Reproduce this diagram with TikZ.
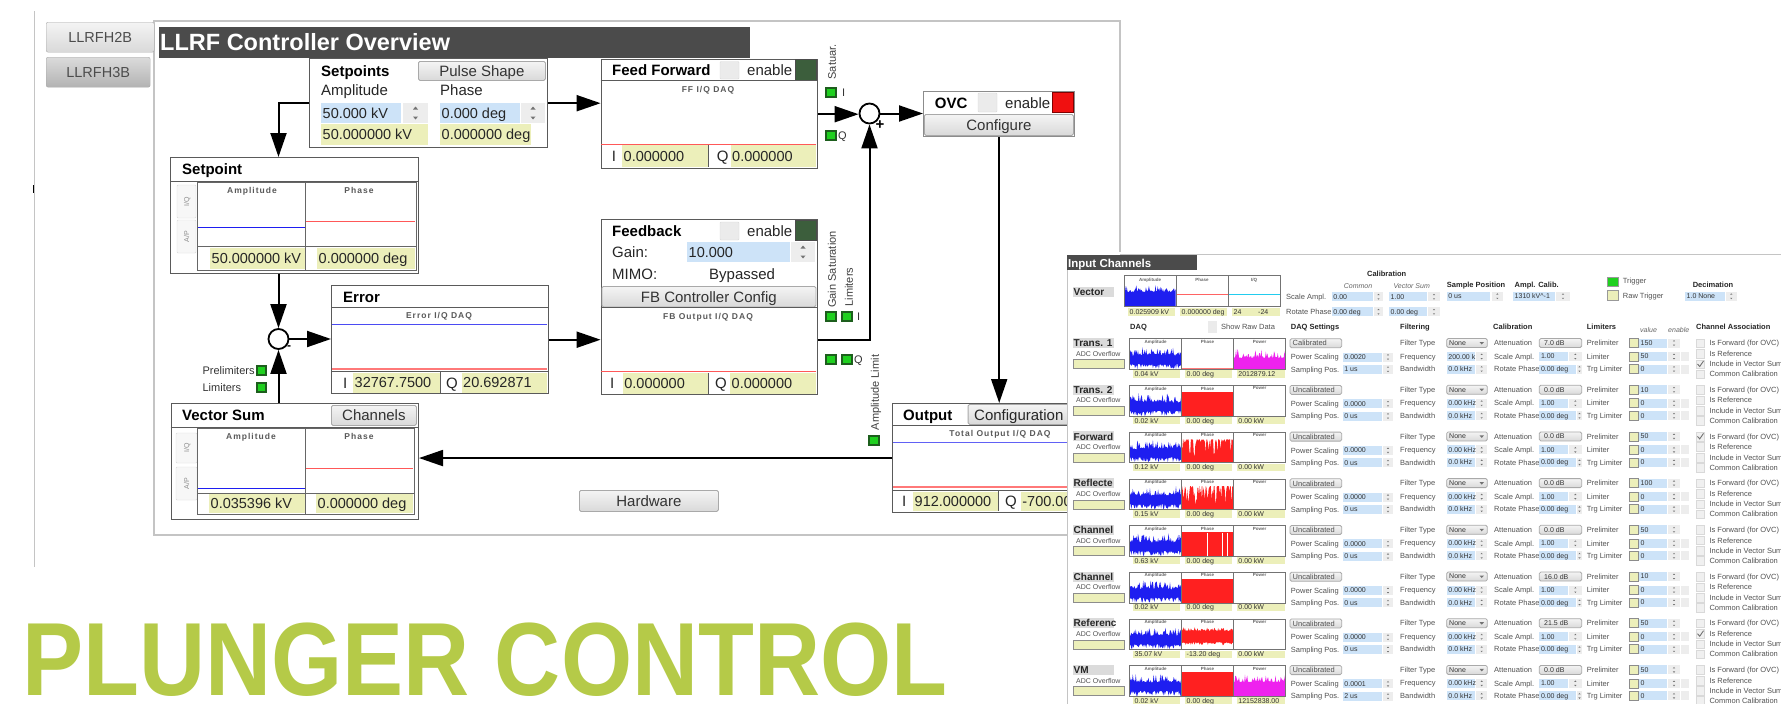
\documentclass[tikz,border=0pt]{standalone}
\usepackage{fontspec}
\setmainfont{Liberation Sans}
\newfontfamily\bannerfont[FakeStretch=0.88]{Liberation Sans}
\newfontfamily\daqfont[LetterSpace=12]{Liberation Sans}
\usepackage{xcolor}
\usetikzlibrary{arrows.meta,positioning,calc}
\definecolor{titlegray}{HTML}{4B4B4B}
\definecolor{framegray}{HTML}{C4C4C4}
\definecolor{boxedge}{HTML}{5A5A5A}
\definecolor{fieldyel}{HTML}{ECEFBA}
\definecolor{fieldblue}{HTML}{CDE3F8}
\definecolor{btntop}{HTML}{F4F4F4}
\definecolor{btnbot}{HTML}{D9D9D9}
\definecolor{btnedge}{HTML}{A9A9A9}
\definecolor{ledgreen}{HTML}{1FD01F}
\definecolor{leddark}{HTML}{1D5E1D}
\definecolor{okgreen}{HTML}{3C5E3C}
\definecolor{alarmred}{HTML}{F01010}
\definecolor{plotblue}{HTML}{1E1EF0}
\definecolor{plotred}{HTML}{FF2020}
\definecolor{plotmag}{HTML}{EE22EE}
\definecolor{plotcyan}{HTML}{22CCEE}
\definecolor{plunger}{HTML}{B5CA48}
\newcounter{lblc}
\newcommand\fsz[1]{\fontsize{#1pt}{#1pt}\selectfont}
% text label with an automatic name
\newcommand\lab[4][]{\stepcounter{lblc}\node[#1] (t\arabic{lblc}) at ({#2},{#3}) {#4};}
% filled field with its text
\newcommand\fld[7][]{\stepcounter{lblc}\fill[#6] ({#2},{#3}) rectangle ({#4},{#5});
  \node[anchor=west,#1] (f\arabic{lblc}) at ({#2+1.5},{((#3)+(#5))/2}) {#7};}
% spin buttons
\newcommand\spin[4]{%
  \pgfmathsetmacro\spx{((#1)+(#3))/2}%
  \pgfmathsetmacro\spu{(3*(#2)+(#4))/4}%
  \pgfmathsetmacro\spl{((#2)+3*(#4))/4}%
  \pgfmathsetmacro\sps{((#4)-(#2))/8}%
  \fill[black!7] ({#1},{#2}) rectangle ({#3},{#4});
  \fill[black!55] (\spx-\sps,\spu+0.6*\sps) -- (\spx+\sps,\spu+0.6*\sps) -- (\spx,\spu-0.6*\sps) -- cycle;
  \fill[black!55] (\spx-\sps,\spl-0.6*\sps) -- (\spx+\sps,\spl-0.6*\sps) -- (\spx,\spl+0.6*\sps) -- cycle;}
% noisy trace band
\newcommand\noiseband[5]{%
  \fill[#5] plot[domain=#1:#2, samples=70] (\x,{#3}) -- plot[domain=#2:#1, samples=70] (\x,{#4}) -- cycle;}
\tikzset{
  every node/.style={inner sep=0pt, text depth=0pt},
  ui/.style={font=\fsz{15}, text=black!85, anchor=base west},
  uib/.style={font=\fsz{15}\bfseries, text=black, anchor=base west},
  fv/.style={font=\fsz{14.5}, text=black!85},
  side/.style={font=\fsz{11}, text=black!80, anchor=base west},
  rot/.style={font=\fsz{11}, text=black!75, rotate=90},
  daq/.style={font=\daqfont\fsz{8.5}\bfseries, text=black!65},
  ptitle/.style={font=\daqfont\fsz{8.5}\bfseries, text=black!65},
  tabtxt/.style={font=\fsz{7}, text=black!45, rotate=90},
  blockbox/.style={draw=boxedge, line width=1.4pt, fill=white, anchor=north west},
  titlebar/.style={fill=titlegray, anchor=north west},
  tabbtn/.style={draw=btnedge, top color=btntop, bottom color=btnbot, rounded corners=2pt,
    anchor=north west, font=\fsz{14.5}, text=black!70},
  btn/.style={draw=btnedge, top color=btntop, bottom color=btnbot, rounded corners=1.5pt, line width=0.8pt},
  divline/.style={draw=boxedge, line width=1pt},
  plotedge/.style={draw=black!60, line width=1pt},
  tabedge/.style={draw=black!15, fill=black!3, rounded corners=1pt},
  chk/.style={draw=black!15, fill=black!8, rounded corners=1pt},
  okbox/.style={fill=okgreen, draw=black!70, line width=0.8pt},
  alarm/.style={fill=alarmred, draw=red!50!black, line width=0.8pt},
  led/.style={draw=leddark, fill=ledgreen, line width=1.2pt},
  sigarrow/.style={-{Triangle[length=24pt,width=16pt]}, line width=2pt},
  sumnode/.style={circle, draw, line width=1.8pt, minimum size=20pt, fill=white},
  ic/.style={font=\fsz{7.5}, text=black!68, anchor=west},
  icb/.style={font=\fsz{7.5}\bfseries, text=black!85, anchor=west},
  ici/.style={font=\fsz{7}\itshape, text=black!60, anchor=west},
  icv/.style={font=\fsz{7}, text=black!80},
  icname/.style={font=\fsz{10}\bfseries, text=black!85, anchor=west},
  ptiny/.style={font=\fsz{4.5}\bfseries, text=black!60},
}
\begin{document}
\begin{tikzpicture}[x=1pt, y=-1pt]
\useasboundingbox (0,0) rectangle (1781,704);
\pgfmathsetseed{1234}

% left window frame and tabs
\draw[framegray, line width=1pt] (34,11) -- (34,567);
\draw[line width=1.5pt] (33.6,185) -- (33.6,193);
\draw[framegray, line width=1.2pt, fill=white] (154,21) rectangle (1120,535);
\node[tabbtn, minimum width=108, minimum height=30] (h2b) at (46,22) {LLRFH2B};
\node[tabbtn, top color=black!14, bottom color=black!30, minimum width=104, minimum height=30] (h3b) at (46,57) {LLRFH3B};
\node[titlebar, minimum width=591, minimum height=31] (title) at (159,27) {};
\lab[font=\fsz{23.5}\bfseries, text=white, anchor=base west]{160}{50}{LLRF Controller Overview}

% Setpoints
\node[blockbox, minimum width=238, minimum height=89] (spts) at (309,58) {};
\lab[uib]{321}{76}{Setpoints}
\node[btn, font=\fsz{15}, text=black!80, anchor=north west, minimum width=127, minimum height=19] (pulse) at (418,61) {Pulse Shape};
\lab[ui]{321}{95}{Amplitude}
\lab[ui]{440}{95}{Phase}
\fld[fv]{321}{103}{401}{123}{fieldblue}{50.000 kV}
\spin{403}{103}{428}{123}
\fld[fv]{440}{103}{520}{123}{fieldblue}{0.000 deg}
\spin{521}{103}{545}{123}
\fld[fv]{321}{124}{428}{145}{fieldyel}{50.000000 kV}
\fld[fv]{440}{124}{531}{145}{fieldyel}{0.000000 deg}

% Setpoint display
\node[blockbox, minimum width=248, minimum height=116] (spbox) at (170,157) {};
\lab[uib]{182}{174}{Setpoint}
\draw[divline] (170,181) -- (418,181);
\draw[tabedge] (177,185) rectangle (196,218);
\lab[tabtxt]{186.5}{201.5}{I/Q}
\draw[tabedge] (177,220) rectangle (196,253);
\lab[tabtxt]{186.5}{236.5}{A/P}
\draw[plotblue, line width=1pt] (198,227) -- (305,227);
\draw[plotred!75, line width=1pt] (306,221) -- (415,221);
\draw[plotedge] (197,182) rectangle (416,270);
\draw[plotedge] (305.5,182) -- (305.5,270) (197,246) -- (416,246);
\lab[ptitle]{252}{190}{Amplitude}
\lab[ptitle]{359}{190}{Phase}
\fld[fv]{210}{247.5}{305}{269}{fieldyel}{50.000000 kV}
\fld[fv]{317}{247.5}{415}{269}{fieldyel}{0.000000 deg}

% Error
\node[blockbox, minimum width=216.6, minimum height=108] (err) at (331,285) {};
\lab[uib]{343}{302}{Error}
\draw[divline] (331,307) -- (547.6,307);
\lab[daq]{439}{315}{Error I/Q DAQ}
\draw[plotblue!80, line width=1pt] (332,324.3) -- (547,324.3);
\draw[plotred!60, line width=1.6pt] (332,368.7) -- (547,368.7);
\draw[divline] (331,371.5) -- (547.6,371.5);
\lab[ui]{343}{388}{I}
\fld[fv]{353}{372.5}{440}{393}{fieldyel}{32767.7500}
\draw[divline] (440,372) -- (440,393);
\lab[ui]{446}{388}{Q}
\fld[fv]{461.5}{372.5}{547}{393}{fieldyel}{20.692871}

% Vector Sum
\node[blockbox, minimum width=247, minimum height=116] (vsum) at (170.6,403) {};
\lab[uib]{182}{420}{Vector Sum}
\node[btn, font=\fsz{15}, text=black!80, anchor=north west, minimum width=85, minimum height=20] (chan) at (331,405) {Channels};
\draw[divline] (170.6,427) -- (417.6,427);
\draw[tabedge] (176,433) rectangle (197,463);
\lab[tabtxt]{186.5}{448}{I/Q}
\draw[tabedge] (176,467) rectangle (197,500);
\lab[tabtxt]{186.5}{483.5}{A/P}
\draw[plotblue, line width=1pt] (198,488.7) -- (305,488.7);
\draw[plotred!75, line width=1pt] (306,468) -- (413,468);
\draw[plotedge] (197,428) rectangle (414,514);
\draw[plotedge] (305,428) -- (305,514) (197,493) -- (414,493);
\lab[ptitle]{251}{436}{Amplitude}
\lab[ptitle]{359}{436}{Phase}
\fld[fv]{209}{494}{304.5}{513}{fieldyel}{0.035396 kV}
\fld[fv]{316}{494}{413}{513}{fieldyel}{0.000000 deg}
\lab[side]{202.4}{374}{Prelimiters}
\draw[led] (257,366) rectangle (266,375);
\lab[side]{202.4}{391}{Limiters}
\draw[led] (257,383) rectangle (266,392);

% Feed Forward
\node[blockbox, minimum width=216, minimum height=109] (ff) at (600.6,59) {};
\lab[uib]{612}{75}{Feed Forward}
\draw[chk] (720,61.5) rectangle (739,79);
\lab[ui]{747}{75}{enable}
\draw[okbox] (795,59.7) rectangle (816,80);
\draw[divline] (600.6,80.7) -- (816.6,80.7);
\lab[daq]{708}{89}{FF I/Q DAQ}
\draw[plotred!75, line width=1pt] (601,144) -- (816,144);
\lab[ui]{611.6}{161}{I}
\fld[fv]{622}{145}{708}{167}{fieldyel}{0.000000}
\draw[divline] (708,145) -- (708,167);
\lab[ui]{716.7}{161}{Q}
\fld[fv]{730.5}{145}{816}{167}{fieldyel}{0.000000}
\lab[rot]{832}{62}{Satuar.}
\draw[led] (826,88) rectangle (836,97);
\lab[side, anchor=west]{842}{92.5}{I}
\draw[led] (826,131) rectangle (836,140);
\lab[side, anchor=west]{838}{135.5}{Q}

% Feedback
\node[blockbox, minimum width=216, minimum height=175] (fb) at (600.6,219) {};
\lab[uib]{612}{236}{Feedback}
\draw[chk] (720,222) rectangle (739,240);
\lab[ui]{747}{236}{enable}
\draw[okbox] (795,220) rectangle (816,240);
\lab[ui]{612}{257}{Gain:}
\fld[fv]{687}{242}{790}{262}{fieldblue}{10.000}
\spin{791}{242}{815}{262}
\lab[ui]{612}{279}{MIMO:}
\lab[ui]{709}{279}{Bypassed}
\node[btn, font=\fsz{15}, text=black!80, anchor=north west, minimum width=214, minimum height=20.5] (fbcfg) at (601.5,286) {FB Controller Config};
\draw[divline] (600.6,307) -- (816.6,307);
\lab[daq]{708}{316}{FB Output I/Q DAQ}
\draw[plotred!75, line width=1pt] (601,371.7) -- (816,371.7);
\lab[ui]{610}{388}{I}
\fld[fv]{622.7}{373}{708}{394}{fieldyel}{0.000000}
\draw[divline] (708,373) -- (708,394);
\lab[ui]{715}{388}{Q}
\fld[fv]{730}{373}{816}{394}{fieldyel}{0.000000}
\lab[rot]{832}{269.5}{Gain Saturation}
\lab[rot]{849}{287}{Limiters}
\draw[led] (826,312) rectangle (836,321);
\draw[led] (842,312) rectangle (852,321);
\lab[side, anchor=west]{857}{316.5}{I}
\draw[led] (826,355) rectangle (836,364);
\draw[led] (842,355) rectangle (852,364);
\lab[side, anchor=west]{854}{359.5}{Q}
\lab[rot]{875}{392.5}{Amplitude Limit}
\draw[led] (869,436) rectangle (879,445);

% OVC
\node[blockbox, draw=black!45, minimum width=151, minimum height=45] (ovc) at (923,91) {};
\lab[uib]{934.7}{108}{OVC}
\draw[chk] (978,93) rectangle (997,112);
\lab[ui]{1005}{108}{enable}
\draw[alarm] (1052.4,92) rectangle (1073,112);
\node[btn, font=\fsz{15}, text=black!80, anchor=north west, minimum width=149, minimum height=21] (ovccfg) at (924,114) {Configure};

% Output
\node[blockbox, minimum width=212, minimum height=108.7] (out) at (892,403) {};
\lab[uib]{903}{420.7}{Output}
\node[btn, anchor=north west, minimum width=135, minimum height=20] (outcfg) at (967.7,404) {};
\lab[ui]{974}{420}{Configuration}
\draw[divline] (892,425) -- (1104,425);
\lab[daq]{1000}{433}{Total Output I/Q DAQ}
\draw[plotblue!70, line width=1pt] (893,442.3) -- (1103,442.3);
\draw[plotred!60, line width=1.4pt] (893,487) -- (1103,487);
\draw[divline] (892,490.5) -- (1104,490.5);
\lab[ui]{902}{506}{I}
\fld[fv]{913}{491.5}{998}{511}{fieldyel}{912.000000}
\draw[divline] (998,491) -- (998,511);
\lab[ui]{1005}{506}{Q}
\begin{scope}
  \clip (1000,480) rectangle (1067,520);
  \fld[fv]{1020.7}{491.5}{1103}{511}{fieldyel}{-700.00}
\end{scope}

\node[btn, font=\fsz{15}, text=black!80, anchor=north west, minimum width=139, minimum height=21] (hw) at (579,490) {Hardware};

% summing points
\node[sumnode] (errsum) at (278.5,339) {};
\lab[font=\fsz{12}\bfseries]{289}{347.5}{-}
\node[sumnode] (ffsum) at (869.5,113.5) {};
\lab[font=\fsz{15}\bfseries]{880}{125}{+}

% signal flow
\draw[sigarrow] (spts.west) -| (spbox.north -| errsum);
\draw[sigarrow] (spts.east) -- (spts.east -| ff.west);
\draw[sigarrow] (spbox.south -| errsum) -- (errsum.north);
\draw[sigarrow] (vsum.north -| errsum) -- (errsum.south);
\draw[sigarrow] (errsum.east) -- (errsum.east -| err.west);
\draw[sigarrow] (err.east) -- (err.east -| fb.west);
\draw[sigarrow] (fb.east |- err.east) -| (ffsum.south);
\draw[sigarrow] (ff.east) -- (ff.east -| ffsum.west);
\draw[sigarrow] (ffsum.east) -- (ffsum.east -| ovc.west);
\draw[sigarrow] (ovc.south) -- (ovc.south |- out.north);
\draw[sigarrow] (out.west) -- (out.west -| vsum.east);

% banner
\lab[font=\bannerfont\fsz{104}\bfseries, text=plunger, anchor=base west]{22}{695}{PLUNGER CONTROL}

% ---- Input Channels window
\fill[white] (1067,252) rectangle (1781,704);
\draw[framegray, line width=1pt] (1120,254) -- (1781,254);
\draw[framegray, line width=0.8pt] (1067,270) -- (1067,704);
\node[titlebar, minimum width=130, minimum height=15] (ictitle) at (1067,255) {};
\lab[font=\fsz{11.5}\bfseries, text=white, anchor=base west]{1068}{267}{Input Channels}

% vector row
\fill[black!14] (1072.7,287) rectangle (1114,297);
\lab[icname]{1073.5}{292}{Vector}
\noiseband{1124.5}{1175.5}{292-7*rnd^3}{306}{plotblue}
\draw[plotred!70, line width=0.8pt] (1176,294) -- (1228,294);
\draw[plotcyan, line width=0.8pt] (1228,294) -- (1280,294);
\draw[black!55, line width=0.6pt] (1124,275) rectangle (1280,306.7);
\draw[black!55, line width=0.6pt] (1176,275) -- (1176,306.7) (1228,275) -- (1228,306.7);
\lab[ptiny]{1150}{279.5}{Amplitude}
\lab[ptiny]{1202}{279.5}{Phase}
\lab[ptiny]{1254}{279.5}{I/Q}
\fld[icv]{1128}{307.5}{1175}{315.7}{fieldyel}{0.025909 kV}
\fld[icv]{1180}{307.5}{1227}{315.7}{fieldyel}{0.000000 deg}
\fld[icv]{1232}{307.5}{1280}{315.7}{fieldyel}{24}
\lab[icv, anchor=west]{1258}{311.6}{-24}
\lab[icb, anchor=center]{1386.7}{274}{Calibration}
\lab[ici, anchor=center]{1358}{286}{Common}
\lab[ici, anchor=center]{1411.7}{286}{Vector Sum}
\lab[ic]{1286}{296.7}{Scale Ampl.}
\fld[icv]{1331.7}{292.2}{1373}{301.2}{fieldblue}{0.00}
\spin{1374}{292.2}{1383}{301.2}
\fld[icv]{1389}{292.2}{1427}{301.2}{fieldblue}{1.00}
\spin{1428}{292.2}{1440}{301.2}
\lab[ic]{1286}{311.7}{Rotate Phase}
\fld[icv]{1331.7}{307.2}{1373}{316.2}{fieldblue}{0.00 deg}
\spin{1374}{307.2}{1383}{316.2}
\fld[icv]{1389}{307.2}{1427}{316.2}{fieldblue}{0.00 deg}
\spin{1428}{307.2}{1440}{316.2}
\lab[icb]{1446.7}{285}{Sample Position}
\fld[icv]{1446.7}{291.7}{1490}{300.7}{fieldblue}{0 us}
\spin{1491.7}{291.7}{1503}{300.7}
\lab[icb, anchor=center]{1536.7}{285}{Ampl. Calib.}
\fld[icv]{1513}{291.7}{1555}{300.7}{fieldblue}{1310 kV\textasciicircum-1}
\spin{1556}{291.7}{1570}{300.7}
\draw[black!40, fill=ledgreen] (1607,276.7) rectangle (1618,285.7);
\lab[ic]{1622.7}{281}{Trigger}
\draw[black!40, fill=fieldyel] (1607,290) rectangle (1618,300);
\lab[ic]{1622.7}{295.7}{Raw Trigger}
\lab[icb, anchor=center]{1713}{285}{Decimation}
\fld[icv]{1685}{291.7}{1725}{300.7}{fieldblue}{1.0 None}
\spin{1725.5}{291.7}{1737}{300.7}

% column headers
\lab[icb]{1130}{327}{DAQ}
\fill[black!8] (1208,321) rectangle (1217,333);
\lab[ic]{1221}{327}{Show Raw Data}
\lab[icb]{1290.7}{327}{DAQ Settings}
\lab[icb]{1400}{327}{Filtering}
\lab[icb]{1493}{327}{Calibration}
\lab[icb]{1586.7}{327}{Limiters}
\lab[ici]{1640}{330}{value}
\lab[ici]{1668}{330}{enable}
\lab[icb]{1696}{327}{Channel Association}

% channel rows
\foreach \k/\nm/\cal/\ps/\sp/\fq/\att/\pre/\va/\vp/\vw/\asc in {
  0/Trans. 1/Calibrated/0.0020/1 us/200.00 k/7.0 dB/150/0.04 kV/0.00 deg/2012879.12/3,
  1/Trans. 2/Uncalibrated/0.0000/0 us/0.00 kHz/0.0 dB/10/0.02 kV/0.00 deg/0.00 kW/0,
  2/Forward/Uncalibrated/0.0000/0 us/0.00 kHz/0.0 dB/50/0.12 kV/0.00 deg/0.00 kW/1,
  3/Reflecte/Uncalibrated/0.0000/0 us/0.00 kHz/0.0 dB/100/0.15 kV/0.00 deg/0.00 kW/0,
  4/Channel/Uncalibrated/0.0000/0 us/0.00 kHz/0.0 dB/50/0.63 kV/0.00 deg/0.00 kW/0,
  5/Channel/Uncalibrated/0.0000/0 us/0.00 kHz/16.0 dB/10/0.02 kV/0.00 deg/0.00 kW/0,
  6/Referenc/Uncalibrated/0.0000/0 us/0.00 kHz/21.5 dB/50/35.07 kV/-13.20 deg/0.00 kW/2,
  7/VM/Uncalibrated/0.0001/2 us/0.00 kHz/0.0 dB/50/0.02 kV/0.00 deg/12152838.00/0} {
  \pgfmathsetmacro\ry{343+46.7*\k}
  \ifnum\k=0 \def\limv{50}\else\def\limv{0}\fi
  \fill[black!14] (1072.7,\ry-5) rectangle (1114,\ry+5);
  \lab[icname]{1073.5}{\ry}{\nm}
  \lab[ic, font=\fsz{7}]{1076}{\ry+10.7}{ADC Overflow}
  \draw[black!45, fill=fieldyel, line width=0.6pt] (1073,\ry+16.7) rectangle (1124.3,\ry+25.7);
  % traces
  \noiseband{1129.8}{1181.2}{\ry+11-8*rnd^3+2*rnd}{\ry+21+5*rnd^2}{plotblue}
  \ifcase\k\relax
    \draw[plotred!60, line width=0.7pt] (1182,\ry+25.3) -- (1233,\ry+25.3);
  \or \fill[plotred] (1182,\ry+2.5) rectangle (1233,\ry+26);
  \or \noiseband{1182}{1233}{\ry+3+20*rnd^5}{\ry+26}{plotred}
  \or \noiseband{1182}{1233}{\ry+3+20*rnd^4}{\ry+26}{plotred}
  \or \fill[plotred] (1182,\ry+2.5) rectangle (1233,\ry+26);
      \draw[white, line width=0.8pt] (1207,\ry+3) -- (1207,\ry+26) (1222,\ry+3) -- (1222,\ry+26) (1227,\ry+3) -- (1227,\ry+26);
  \or \fill[plotred] (1182,\ry+2.5) rectangle (1233,\ry+26);
  \or \noiseband{1182}{1233}{\ry+8-4*rnd^2}{\ry+19+3*rnd^2}{plotred}
  \or \fill[plotred] (1182,\ry+2.5) rectangle (1233,\ry+26);
  \fi
  \ifnum\k=0 \noiseband{1233.8}{1285.2}{\ry+15-9*rnd^3}{\ry+26}{plotmag}\fi
  \ifnum\k=7 \noiseband{1233.8}{1285.2}{\ry+12-8*rnd^3}{\ry+26}{plotmag}\fi
  \draw[black!55, line width=0.6pt] (1129.3,\ry-4.3) rectangle (1285.7,\ry+26.3);
  \draw[black!55, line width=0.6pt] (1181.7,\ry-4.3) -- (1181.7,\ry+26.3) (1233.3,\ry-4.3) -- (1233.3,\ry+26.3);
  \lab[ptiny]{1155.5}{\ry-1.3}{Amplitude}
  \lab[ptiny]{1207.5}{\ry-1.3}{Phase}
  \lab[ptiny]{1259.5}{\ry-1.3}{Power}
  \fld[icv]{1133}{\ry+27.3}{1180}{\ry+34.5}{fieldyel}{\va}
  \fld[icv]{1185}{\ry+27.3}{1231.7}{\ry+34.5}{fieldyel}{\vp}
  \fld[icv]{1236.7}{\ry+27.3}{1285}{\ry+34.5}{fieldyel}{\vw}
  % DAQ settings
  \draw[btn] (1290,\ry-4.3) rectangle (1341.7,\ry+4.7);
  \lab[ic]{1292.5}{\ry+0.2}{\cal}
  \lab[ic]{1290.7}{\ry+14}{Power Scaling}
  \fld[icv]{1342.7}{\ry+9.5}{1381.7}{\ry+18.5}{fieldblue}{\ps}
  \spin{1382.7}{\ry+9.5}{1393.3}{\ry+18.5}
  \lab[ic]{1290.7}{\ry+26.3}{Sampling Pos.}
  \fld[icv]{1342.7}{\ry+21.8}{1381.7}{\ry+30.8}{fieldblue}{\sp}
  \spin{1382.7}{\ry+21.8}{1393.3}{\ry+30.8}
  % filtering
  \lab[ic]{1400}{\ry}{Filter Type}
  \lab[ic]{1400}{\ry+13.5}{Frequency}
  \lab[ic]{1400}{\ry+26}{Bandwidth}
  \draw[btn] (1446.7,\ry-4.5) rectangle (1487.3,\ry+4.5);
  \lab[icv, anchor=west]{1449}{\ry}{None}
  \fill[black!55] (1479.5,\ry-1) -- (1484,\ry-1) -- (1481.7,\ry+1.5) -- cycle;
  \fld[icv]{1446.7}{\ry+9}{1475}{\ry+18}{fieldblue}{\fq}
  \spin{1476}{\ry+9}{1487.3}{\ry+18}
  \fld[icv]{1446.7}{\ry+21.5}{1475}{\ry+30.5}{fieldblue}{0.0 kHz}
  \spin{1476}{\ry+21.5}{1487.3}{\ry+30.5}
  % calibration
  \lab[ic]{1494}{\ry}{Attenuation}
  \draw[btn] (1539.3,\ry-4.5) rectangle (1581.7,\ry+4.5);
  \lab[icv, anchor=west]{1544}{\ry}{\att}
  \lab[ic]{1494}{\ry+13.5}{Scale Ampl.}
  \fld[icv]{1539.3}{\ry+9}{1568}{\ry+18}{fieldblue}{1.00}
  \spin{1569}{\ry+9}{1581.7}{\ry+18}
  \lab[ic]{1494}{\ry+26}{Rotate Phase}
  \fld[icv]{1539.3}{\ry+21.5}{1576}{\ry+30.5}{fieldblue}{0.00 deg}
  \spin{1577}{\ry+21.5}{1582}{\ry+30.5}
  % limiters
  \foreach \lt/\lv/\dy in {Prelimiter/\pre/0, Limiter/\limv/13.5, Trg Limiter/0/26} {
    \lab[ic]{1586.7}{\ry+\dy}{\lt}
    \draw[black!45, fill=fieldyel, line width=0.6pt] (1629.3,\ry+\dy-4.5) rectangle (1638.3,\ry+\dy+4.5);
    \fld[icv]{1639}{\ry+\dy-4.5}{1666.7}{\ry+\dy+4.5}{fieldblue}{\lv}
    \spin{1668}{\ry+\dy-4.5}{1680}{\ry+\dy+4.5}
  }
  \fill[black!7] (1681,\ry+9) rectangle (1689,\ry+18);
  \fill[black!7] (1681,\ry+21.5) rectangle (1689,\ry+30.5);
  % channel association
  \foreach \ca/\dy [count=\j] in {Is Forward (for OVC)/0, Is Reference/10.5, Include in Vector Sum/21, Common Calibration/31} {
    \draw[black!15, fill=black!6] (1696,\ry+\dy-4.3) rectangle (1704.5,\ry+\dy+4.3);
    \lab[ic]{1709.3}{\ry+\dy}{\ca}
    \ifnum\asc=\j\relax
      \draw[black!55, line width=0.9pt] (1697.5,\ry+\dy) -- (1699.7,\ry+\dy+2.5) -- (1703.5,\ry+\dy-3);
    \fi
  }
}
\end{tikzpicture}
\end{document}
